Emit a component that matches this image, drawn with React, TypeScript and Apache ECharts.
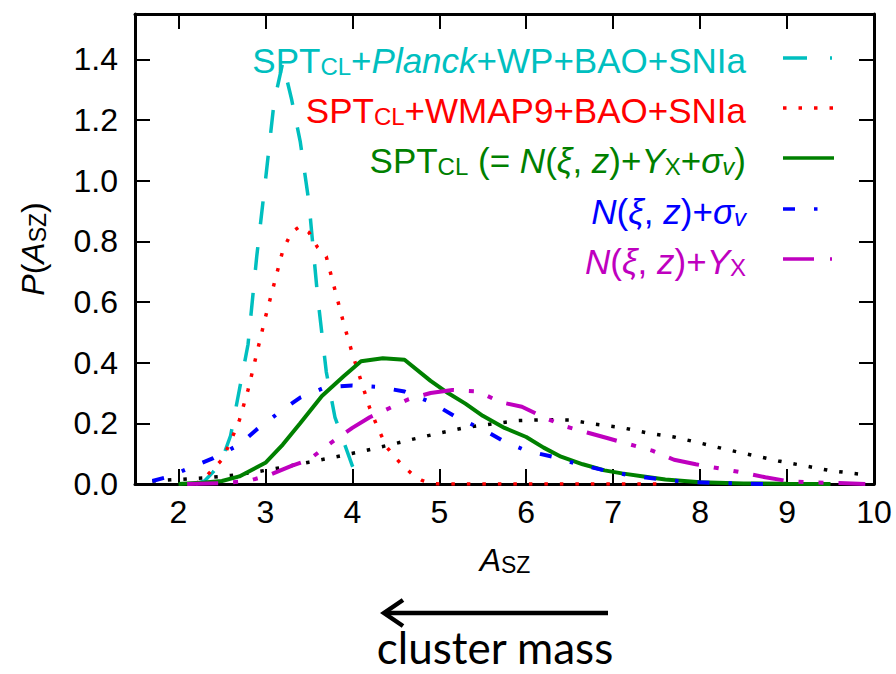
import React, { useEffect, useRef } from "react";
import * as echarts from "echarts";

// ---------- data ----------
const xTickValues = [2, 3, 4, 5, 6, 7, 8, 9, 10];
const yTickValues = [0, 0.2, 0.4, 0.6, 0.8, 1.0, 1.2, 1.4];

// SPT_CL + Planck + WP + BAO + SNIa (cyan)
const planckA = [2.2, 2.3, 2.4, 2.5, 2.6, 2.7, 2.8, 2.9, 3.0, 3.1, 3.2, 3.3, 3.4, 3.5, 3.6, 3.7, 3.8, 3.9, 4.0, 4.1];
const planckP = [0.0, 0.01, 0.04, 0.08, 0.16, 0.31, 0.46, 0.75, 1.0, 1.26, 1.39, 1.27, 1.13, 0.93, 0.62, 0.37, 0.22, 0.14, 0.06, 0.0];

// SPT_CL + WMAP9 + BAO + SNIa (red)
const wmapA = [2.2, 2.3, 2.4, 2.5, 2.6, 2.7, 2.8, 2.9, 3.0, 3.1, 3.2, 3.3, 3.4, 3.5, 3.6, 3.7, 3.8, 3.9, 4.0, 4.1, 4.2, 4.3, 4.4, 4.5, 4.6, 4.7, 4.8, 4.9, 5.0, 7.5];
const wmapP = [0.0, 0.02, 0.05, 0.08, 0.14, 0.21, 0.31, 0.43, 0.55, 0.66, 0.77, 0.83, 0.85, 0.83, 0.78, 0.75, 0.64, 0.53, 0.43, 0.34, 0.25, 0.18, 0.12, 0.085, 0.055, 0.03, 0.012, 0.003, 0.0, 0.0];

// SPT_CL (= N(xi,z) + Y_X + sigma_v) (green)
const sptA = [2.0, 2.3, 2.5, 2.7, 3.0, 3.2, 3.4, 3.65, 3.9, 4.1, 4.35, 4.6, 4.9, 5.1, 5.3, 5.5, 5.75, 6.0, 6.2, 6.4, 6.65, 6.9, 7.1, 7.35, 7.6, 8.0, 8.5, 9.0, 9.5];
const sptP = [0.0, 0.005, 0.01, 0.025, 0.07, 0.13, 0.2, 0.29, 0.355, 0.405, 0.415, 0.41, 0.34, 0.3, 0.265, 0.225, 0.185, 0.155, 0.12, 0.09, 0.065, 0.045, 0.035, 0.025, 0.015, 0.006, 0.002, 0.0005, 0.0];

// N(xi,z) + sigma_v (blue)
const nsigA = [1.7, 1.9, 2.1, 2.4, 2.7, 2.9, 3.2, 3.4, 3.7, 4.0, 4.3, 4.6, 4.9, 5.2, 5.5, 5.75, 6.0, 6.3, 6.6, 6.9, 7.2, 7.5, 7.8, 8.2, 8.8];
const nsigP = [0.01, 0.025, 0.05, 0.085, 0.13, 0.18, 0.245, 0.285, 0.32, 0.325, 0.32, 0.305, 0.27, 0.22, 0.18, 0.14, 0.11, 0.09, 0.065, 0.045, 0.028, 0.017, 0.008, 0.003, 0.0];

// N(xi,z) + Y_X (magenta)
const nyxA = [2.1, 2.5, 2.8, 3.05, 3.3, 3.5, 3.75, 4.0, 4.2, 4.35, 4.5, 4.65, 4.9, 5.15, 5.45, 5.7, 5.95, 6.2, 6.45, 6.7, 6.95, 7.2, 7.45, 7.7, 7.95, 8.25, 8.5, 8.75, 9.0, 9.3, 9.6, 9.9];
const nyxP = [0.0, 0.003, 0.01, 0.03, 0.06, 0.08, 0.135, 0.185, 0.22, 0.24, 0.26, 0.28, 0.3, 0.31, 0.305, 0.27, 0.255, 0.22, 0.19, 0.17, 0.15, 0.13, 0.11, 0.08, 0.065, 0.05, 0.037, 0.022, 0.01, 0.005, 0.003, 0.0];

// unlabelled black dotted curve
const priorA = [1.7, 2.0, 2.3, 2.6, 2.9, 3.2, 3.5, 3.8, 4.1, 4.4, 4.7, 5.0, 5.3, 5.6, 5.9, 6.2, 6.5, 6.8, 7.1, 7.4, 7.7, 8.0, 8.3, 8.6, 8.9, 9.2, 9.5, 9.85];
const priorP = [0.01, 0.015, 0.02, 0.028, 0.04, 0.055, 0.072, 0.089, 0.107, 0.127, 0.148, 0.168, 0.186, 0.198, 0.209, 0.212, 0.211, 0.197, 0.186, 0.168, 0.155, 0.135, 0.114, 0.095, 0.076, 0.06, 0.044, 0.032];

const FONT = "'Liberation Sans', Arial, Helvetica, sans-serif";
const CYAN = "#00bfbf";
const RED = "#ff0000";
const GREEN = "#008000";
const BLUE = "#0000ff";
const MAGENTA = "#bf00bf";

const pairs = (a: number[], p: number[]) => a.map((x, i) => [x, p[i]]);

function richStyles(color: string, size: number, lh: number, subSize: number, subLh: number) {
  const base = { fontFamily: FONT, fill: color, verticalAlign: "bottom" as const };
  return {
    n: { ...base, fontSize: size, lineHeight: lh },
    i: { ...base, fontSize: size, lineHeight: lh, fontStyle: "italic" as const },
    s: { ...base, fontSize: subSize, lineHeight: subLh },
    si: { ...base, fontSize: subSize, lineHeight: subLh, fontStyle: "italic" as const },
  };
}

const legendItems = [
  { text: "{n|SPT}{s|CL}{n|+}{i|Planck}{n|+WP+BAO+SNIa}", color: CYAN, y: 58, dash: [24, 23, 2, 23] },
  { text: "{n|SPT}{s|CL}{n|+WMAP9+BAO+SNIa}", color: RED, y: 108, dash: [3.5, 12] },
  { text: "{n|SPT}{s|CL}{n| (= }{i|N}{n|(}{i|ξ}{n|, }{i|z}{n|)+}{i|Y}{s|X}{n|+}{i|σ}{si|v}{n|)}", color: GREEN, y: 158, dash: null },
  { text: "{i|N}{n|(}{i|ξ}{n|, }{i|z}{n|)+}{i|σ}{si|v}", color: BLUE, y: 209, dash: [12, 19, 3.5, 19] },
  { text: "{i|N}{n|(}{i|ξ}{n|, }{i|z}{n|)+}{i|Y}{s|X}", color: MAGENTA, y: 259, dash: [31, 16, 2, 16] },
];

export default function App() {
  const ref = useRef<HTMLDivElement>(null);

  useEffect(() => {
    if (!ref.current) return;
    const chart = echarts.init(ref.current, null, { renderer: "svg" });

    const lineSeries = (name: string, a: number[], p: number[], color: string, width: number, type: any) => ({
      name,
      type: "line",
      data: pairs(a, p),
      xAxisIndex: 0,
      yAxisIndex: 0,
      symbol: "none",
      smooth: false,
      lineStyle: { color, width, type, cap: "butt" },
      itemStyle: { color },
      emphasis: { disabled: true },
    });

    const axisLineStyle = { show: true, lineStyle: { color: "#000", width: 3 }, onZero: false };
    const tickStyle = (vals: number[]) => ({
      show: true,
      inside: true,
      length: 15,
      customValues: vals,
      lineStyle: { color: "#000", width: 2 },
    });

    const legendGraphics: any[] = [];
    legendItems.forEach((it) => {
      legendGraphics.push({
        type: "text",
        x: 746,
        y: it.y - 1,
        silent: true,
        style: {
          text: it.text,
          textAlign: "right",
          textVerticalAlign: "middle",
          rich: richStyles(it.color, 35, 42, 24, 24),
        },
      });
      legendGraphics.push({
        type: "line",
        silent: true,
        shape: { x1: 783, y1: it.y, x2: 834, y2: it.y },
        style: {
          stroke: it.color,
          lineWidth: 3.5,
          lineDash: it.dash || undefined,
        },
      });
    });

    const option: any = {
      animation: false,
      backgroundColor: "#ffffff",
      grid: { left: 135, right: 22, top: 14, bottom: 190, containLabel: false },
      xAxis: [
        {
          type: "value",
          min: 1.5,
          max: 10,
          position: "bottom",
          axisLine: axisLineStyle,
          axisTick: tickStyle(xTickValues),
          axisLabel: {
            show: true,
            customValues: xTickValues,
            formatter: (v: number) => String(v),
            fontFamily: FONT,
            fontSize: 32,
            color: "#000",
            margin: 12,
          },
          splitLine: { show: false },
        },
        {
          type: "value",
          min: 1.5,
          max: 10,
          position: "top",
          axisLine: axisLineStyle,
          axisTick: tickStyle(xTickValues),
          axisLabel: { show: false, customValues: xTickValues },
          splitLine: { show: false },
        },
      ],
      yAxis: [
        {
          type: "value",
          min: 0,
          max: 1.55,
          position: "left",
          axisLine: axisLineStyle,
          axisTick: tickStyle(yTickValues),
          axisLabel: {
            show: true,
            customValues: yTickValues,
            formatter: (v: number) => v.toFixed(1),
            fontFamily: FONT,
            fontSize: 32,
            color: "#000",
            margin: 17,
          },
          splitLine: { show: false },
        },
        {
          type: "value",
          min: 0,
          max: 1.55,
          position: "right",
          axisLine: axisLineStyle,
          axisTick: tickStyle(yTickValues),
          axisLabel: { show: false, customValues: yTickValues },
          splitLine: { show: false },
        },
      ],
      series: [
        lineSeries("Unlabelled", priorA, priorP, "#000000", 3.5, [3.5, 12]),
        lineSeries("SPT_CL+Planck+WP+BAO+SNIa", planckA, planckP, CYAN, 3.5, [23, 23]),
        lineSeries("SPT_CL+WMAP9+BAO+SNIa", wmapA, wmapP, RED, 3.5, [3.5, 12]),
        lineSeries("SPT_CL (= N(ξ,z)+Y_X+σ_v)", sptA, sptP, GREEN, 4, "solid"),
        lineSeries("N(ξ,z)+σ_v", nsigA, nsigP, BLUE, 4, [12, 19, 3.5, 19]),
        lineSeries("N(ξ,z)+Y_X", nyxA, nyxP, MAGENTA, 4, [31, 15, 5, 15, 5, 15]),
      ],
      graphic: [
        ...legendGraphics,
        {
          type: "text",
          x: 30,
          y: 249,
          rotation: Math.PI / 2,
          silent: true,
          style: {
            text: "{i|P}{n|(}{i|A}{s|SZ}{n|)}",
            textAlign: "center",
            textVerticalAlign: "middle",
            rich: richStyles("#000", 32, 38, 23, 18),
          },
        },
        {
          type: "text",
          x: 505,
          y: 557,
          silent: true,
          style: {
            text: "{i|A}{s|SZ}",
            textAlign: "center",
            textVerticalAlign: "middle",
            rich: richStyles("#000", 32, 38, 23, 18),
          },
        },
        {
          type: "line",
          silent: true,
          shape: { x1: 608, y1: 613, x2: 386, y2: 613 },
          style: { stroke: "#000", lineWidth: 4.5 },
        },
        {
          type: "polyline",
          silent: true,
          shape: { points: [[403, 600], [384, 613], [403, 626]] },
          style: { stroke: "#000", lineWidth: 4.5, fill: null },
        },
        {
          type: "text",
          x: 495,
          y: 647,
          silent: true,
          style: {
            text: "cluster mass",
            textAlign: "center",
            textVerticalAlign: "middle",
            fontFamily: "Lato, 'Open Sans', sans-serif",
            fontSize: 44,
            lineHeight: 40,
            fill: "#000",
          },
        },
      ],
    };

    chart.setOption(option);
    return () => chart.dispose();
  }, []);

  return (
    <div
      ref={ref}
      style={{ position: "fixed", left: 0, top: 0, width: 896, height: 674, background: "#fff" }}
    />
  );
}
